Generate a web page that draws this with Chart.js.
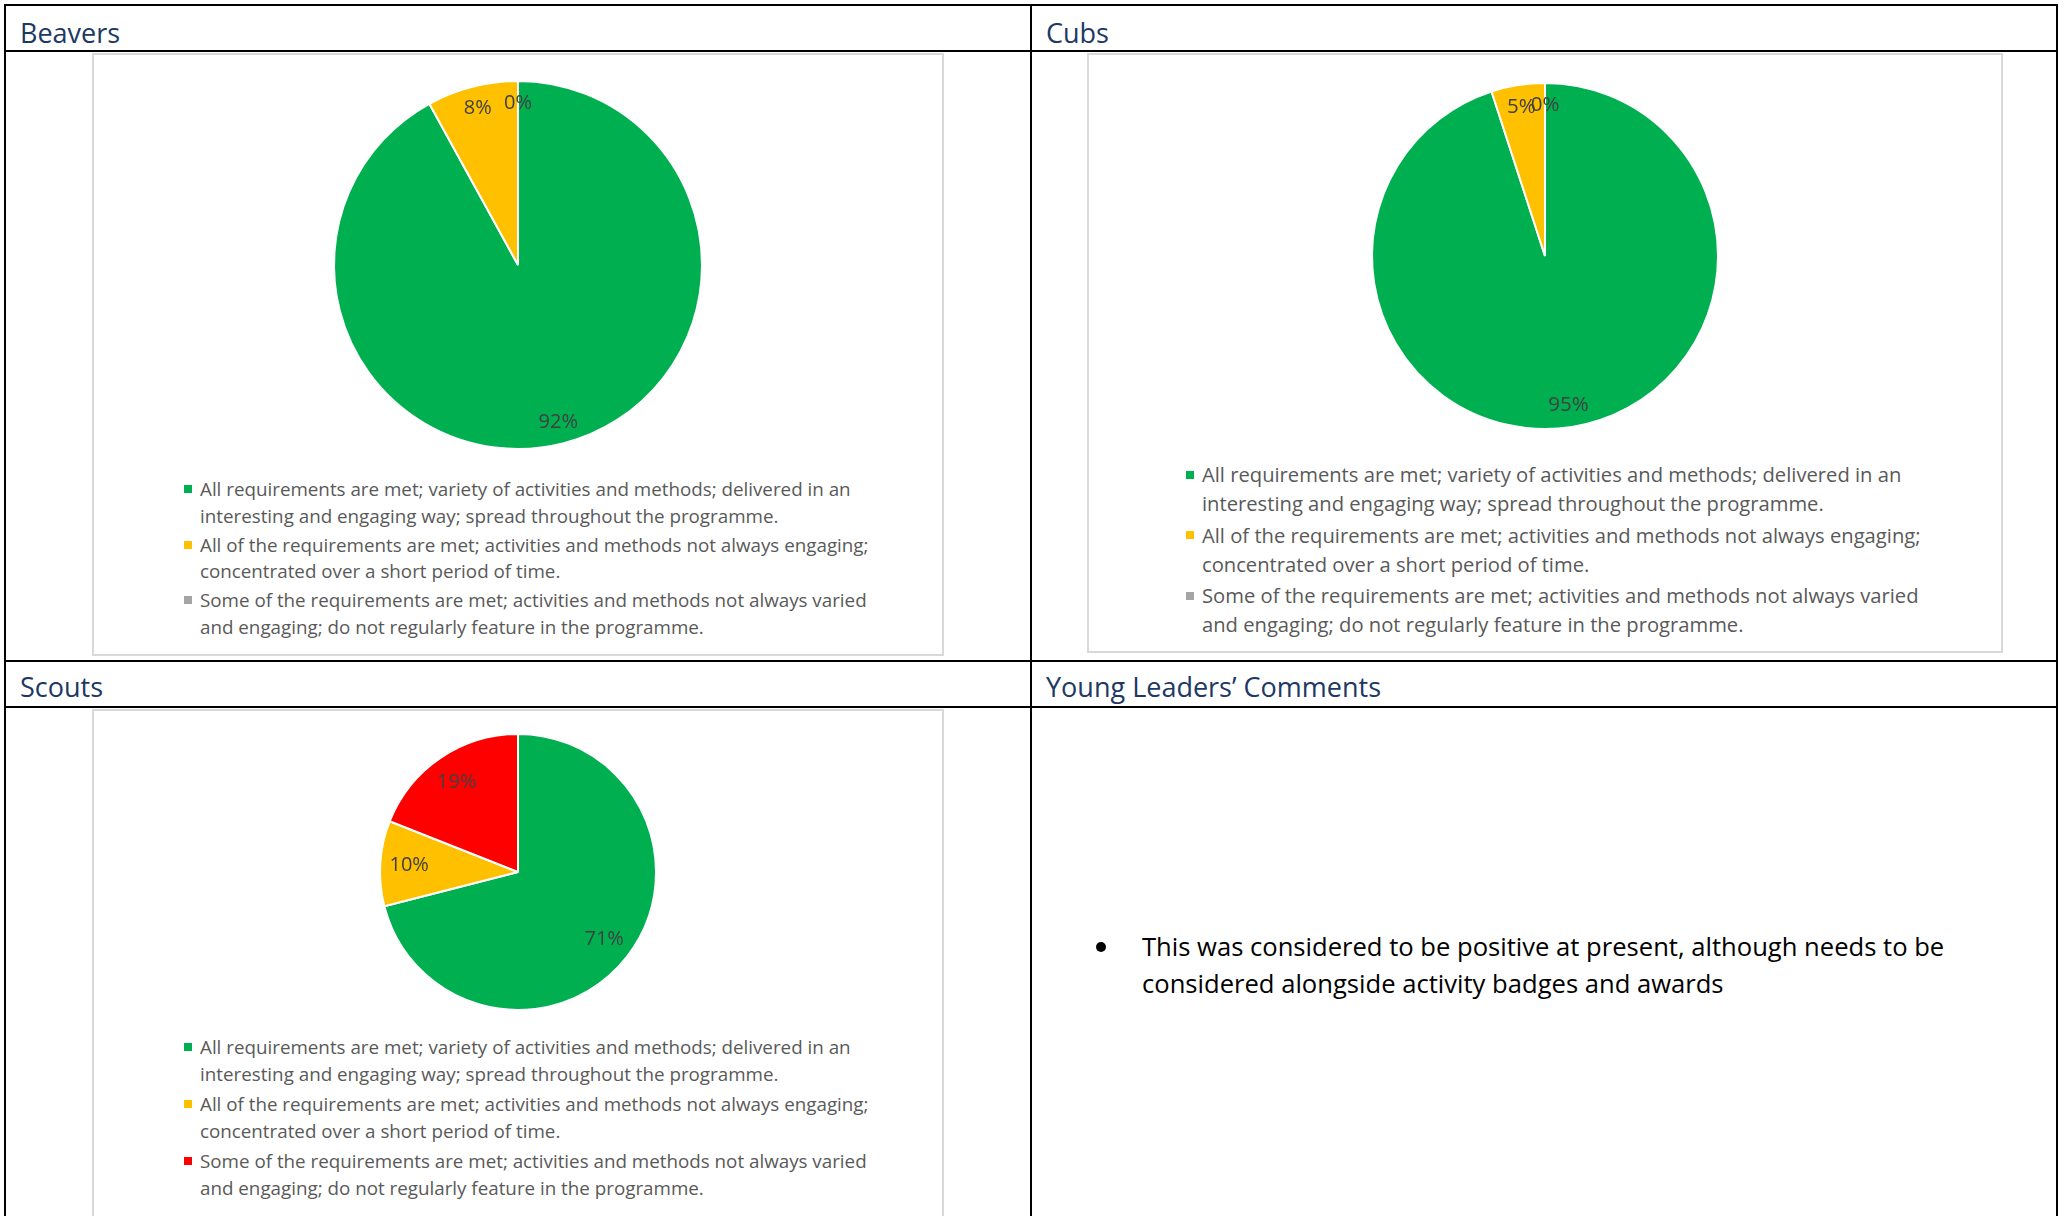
<!DOCTYPE html>
<html>
<head>
<meta charset="utf-8">
<script src="https://cdn.jsdelivr.net/npm/chart.js@4.4.1/dist/chart.umd.min.js"></script>
<style>
  body { margin: 0; width: 2065px; height: 1216px; overflow: hidden; background: #fff;
         font-family: "Open Sans", sans-serif; }
  .line { position: absolute; background: #000; }
  .head { position: absolute; color: #203864; font-size: 27px; line-height: 46px; white-space: nowrap; }
  .box { position: absolute; border: 2px solid #d9d9d9; box-sizing: border-box; background: #fff; }
  .box canvas { position: absolute; left: 0; top: 0; }
  .legend { position: absolute; left: 0; right: 0; color: #595959; white-space: nowrap; }
  .legend .item { position: relative; }
  .legend .swatch { position: absolute; width: 8px; height: 8px; }
  .comment { position: absolute; left: 1090px; top: 928px; font-size: 25.6px; line-height: 37px; color: #000; white-space: nowrap; }
  .comment .dot { position: absolute; left: 6px; top: 14px; width: 10px; height: 10px; border-radius: 50%; background: #000; }
  .comment .txt { position: absolute; left: 52px; top: 0; }
</style>
</head>
<body>
<!-- table lines -->
<div class="line" style="left:4px; top:4px; width:2054px; height:2px;"></div>
<div class="line" style="left:4px; top:4px; width:2px; height:1212px;"></div>
<div class="line" style="left:2056px; top:4px; width:2px; height:1212px;"></div>
<div class="line" style="left:1030px; top:4px; width:2px; height:1212px;"></div>
<div class="line" style="left:4px; top:50px; width:2054px; height:2px;"></div>
<div class="line" style="left:4px; top:660px; width:2054px; height:2px;"></div>
<div class="line" style="left:4px; top:706px; width:2054px; height:2px;"></div>

<div class="head" style="left:20px; top:10px;">Beavers</div>
<div class="head" style="left:1046px; top:10px;">Cubs</div>
<div class="head" style="left:20px; top:664px;">Scouts</div>
<div class="head" style="left:1046px; top:664px;">Young Leaders’ Comments</div>

<div class="box" style="left:92px; top:53px; width:852px; height:603px;">
  <canvas id="chartBeavers" width="848" height="420"></canvas>
  <div class="legend" id="legendBeavers" style="top:421px;"></div>
</div>
<div class="box" style="left:1087px; top:53px; width:916px; height:600px;">
  <canvas id="chartCubs" width="912" height="402"></canvas>
  <div class="legend" id="legendCubs" style="top:405px;"></div>
</div>
<div class="box" style="left:92px; top:709px; width:852px; height:540px;">
  <canvas id="chartScouts" width="848" height="322"></canvas>
  <div class="legend" id="legendScouts" style="top:323px;"></div>
</div>

<div class="comment">
  <div class="dot"></div>
  <div class="txt">This was considered to be positive at present, although needs to be<br>considered alongside activity badges and awards</div>
</div>

<script>
// categories (legend text, split into the two lines used in the report)
const categories = [
  ["All requirements are met; variety of activities and methods; delivered in an",
   "interesting and engaging way; spread throughout the programme."],
  ["All of the requirements are met; activities and methods not always engaging;",
   "concentrated over a short period of time."],
  ["Some of the requirements are met; activities and methods not always varied",
   "and engaging; do not regularly feature in the programme."]
];

// percentages per section
const beaversValues = [92, 8, 0];
const cubsValues = [95, 5, 0];
const scoutsValues = [71, 10, 19];

const coloursGrey = ["#00B050", "#FFC000", "#A5A5A5"];
const coloursRed = ["#00B050", "#FFC000", "#FF0000"];

// percent labels inside the slices
const pctLabels = {
  id: "pctLabels",
  afterDatasetsDraw(chart, args, opts) {
    const ctx = chart.ctx;
    const meta = chart.getDatasetMeta(0);
    const values = chart.data.datasets[0].data;
    ctx.save();
    ctx.font = opts.size + "px 'Open Sans', sans-serif";
    ctx.fillStyle = "#404040";
    ctx.textAlign = "center";
    ctx.textBaseline = "middle";
    meta.data.forEach(function (arc, i) {
      const p = arc.getProps(["x", "y", "startAngle", "endAngle", "outerRadius"], true);
      const mid = (p.startAngle + p.endAngle) / 2;
      const r = p.outerRadius * opts.pos;
      ctx.fillText(values[i] + "%", p.x + Math.cos(mid) * r, p.y + Math.sin(mid) * r);
    });
    ctx.restore();
  }
};

// html legend under each pie
const htmlLegend = {
  id: "htmlLegend",
  afterUpdate(chart, args, opts) {
    const box = document.getElementById(opts.containerID);
    box.innerHTML = "";
    const colours = chart.data.datasets[0].backgroundColor;
    chart.data.labels.forEach(function (lines, i) {
      const item = document.createElement("div");
      item.className = "item";
      item.style.paddingLeft = opts.textX + "px";
      item.style.fontSize = opts.size + "px";
      item.style.lineHeight = opts.lineH + "px";
      item.style.marginBottom = opts.gap + "px";
      const sw = document.createElement("span");
      sw.className = "swatch";
      sw.style.background = colours[i];
      sw.style.left = opts.markX + "px";
      sw.style.top = (opts.lineH / 2 - 4) + "px";
      item.appendChild(sw);
      const txt = document.createElement("span");
      txt.innerHTML = lines.join("<br>");
      item.appendChild(txt);
      box.appendChild(item);
    });
  }
};

function makePie(canvasId, legendId, values, colours, radius, labelPos, labelSize, legendOpts) {
  return new Chart(document.getElementById(canvasId), {
    type: "pie",
    data: {
      labels: categories,
      datasets: [{
        data: values,
        backgroundColor: colours,
        borderColor: "#ffffff",
        borderWidth: 2
      }]
    },
    options: {
      responsive: false,
      animation: false,
      radius: radius,
      plugins: {
        legend: { display: false },
        tooltip: { enabled: false },
        pctLabels: { pos: labelPos, size: labelSize },
        htmlLegend: Object.assign({ containerID: legendId }, legendOpts)
      }
    },
    plugins: [pctLabels, htmlLegend]
  });
}

makePie("chartBeavers", "legendBeavers", beaversValues, coloursGrey, 184, 0.88, 20,
  { textX: 106, markX: 90, size: 18.8, lineH: 26.5, gap: 2.5 });
makePie("chartCubs", "legendCubs", cubsValues, coloursGrey, 173, 0.87, 20.5,
  { textX: 113, markX: 97, size: 20.2, lineH: 29, gap: 2.5 });
makePie("chartScouts", "legendScouts", scoutsValues, coloursRed, 138, 0.79, 20,
  { textX: 106, markX: 90, size: 18.8, lineH: 26.5, gap: 4 });
</script>
</body>
</html>
